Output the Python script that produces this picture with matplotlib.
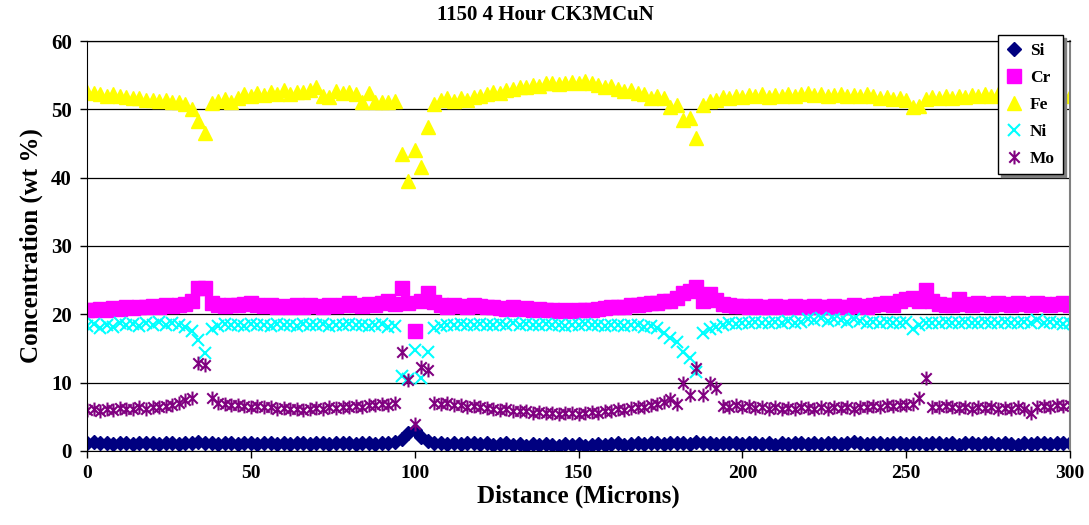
import numpy as np
import matplotlib
matplotlib.use("Agg")
import matplotlib.pyplot as plt
from matplotlib.path import Path

plt.rcParams['font.family'] = ['Liberation Serif', 'DejaVu Serif']
plt.rcParams['font.weight'] = 'bold'

# distance in microns, one reading every 2 microns
distance = np.arange(0, 302, 2)

si = [1.2, 1.3, 1.1, 1.2, 1.0, 1.1, 1.2, 1.0, 1.1, 1.2,
      1.1, 1.0, 1.2, 1.1, 1.0, 1.2, 1.1, 1.3, 1.2, 1.1,
      1.0, 1.2, 1.1, 1.0, 1.1, 1.2, 1.0, 1.1, 1.2, 1.0,
      1.1, 1.0, 1.2, 1.1, 1.0, 1.1, 1.2, 1.0, 1.1, 1.2,
      1.1, 1.0, 1.2, 1.1, 1.0, 1.2, 1.1, 1.3, 1.8, 2.6,
      3.0, 2.0, 1.4, 1.2, 1.1, 1.0, 1.1, 1.0, 1.2, 1.1,
      1.0, 1.1, 0.9, 1.0, 1.1, 0.9, 1.0, 0.8, 1.0, 0.9,
      1.0, 0.9, 0.8, 1.0, 0.9, 1.0, 0.8, 0.9, 1.0, 0.9,
      1.0, 1.1, 0.9, 1.0, 1.1, 1.0, 1.2, 1.1, 1.0, 1.2,
      1.1, 1.2, 1.0, 1.3, 1.1, 1.2, 1.0, 1.1, 1.2, 1.1,
      1.0, 1.1, 1.2, 1.0, 1.1, 0.9, 1.1, 1.0, 1.2, 1.1,
      1.0, 1.1, 1.0, 1.2, 1.1, 1.0, 1.1, 1.3, 1.1, 1.0,
      1.2, 1.1, 1.0, 1.1, 1.2, 1.0, 1.1, 1.2, 1.0, 1.1,
      1.2, 1.0, 1.1, 0.9, 1.1, 1.2, 1.0, 1.1, 1.2, 1.0,
      1.1, 1.0, 0.9, 1.1, 1.0, 1.2, 1.1, 1.0, 1.1, 1.2,
      1.2]

cr = [20.7, 20.6, 20.8, 20.7, 20.9, 20.8, 21.0, 20.9, 21.1, 21.0,
      21.2, 21.1, 21.3, 21.2, 21.4, 21.5, 22.0, 23.8, 23.9, 21.6,
      21.3, 21.2, 21.4, 21.3, 21.5, 21.6, 21.4, 21.2, 21.3, 21.1,
      21.2, 21.0, 21.3, 21.1, 21.4, 21.2, 21.1, 21.3, 21.2, 21.4,
      21.6, 21.3, 21.2, 21.5, 21.4, 21.6, 22.0, 21.5, 23.9, 21.6,
      17.6, 21.9, 23.1, 21.8, 21.3, 21.1, 21.4, 21.2, 21.1, 21.3,
      21.2, 21.0, 21.1, 20.9, 20.8, 21.0, 20.8, 20.9, 20.7, 20.8,
      20.6, 20.7, 20.5, 20.6, 20.5, 20.6, 20.7, 20.6, 20.8, 20.9,
      21.0, 21.1, 21.0, 21.3, 21.4, 21.5, 21.6, 21.7, 21.9, 22.0,
      22.4, 23.1, 23.4, 24.0, 22.0, 23.0, 22.1, 21.5, 21.3, 21.2,
      21.2, 21.1, 21.2, 21.0, 21.1, 21.2, 21.0, 21.1, 21.2, 21.0,
      21.1, 21.2, 21.0, 21.1, 21.2, 21.0, 21.1, 21.3, 21.2, 21.1,
      21.3, 21.5, 21.6, 21.4, 21.9, 22.2, 22.4, 21.9, 23.5, 21.9,
      21.5, 21.3, 21.4, 22.2, 21.5, 21.4, 21.6, 21.5, 21.3, 21.6,
      21.5, 21.4, 21.6, 21.5, 21.4, 21.6, 21.5, 21.4, 21.5, 21.6,
      21.4]

fe = [52.6, 52.4, 52.3, 52.0, 52.2, 51.9, 51.8, 51.6, 51.7, 51.3,
      51.4, 51.2, 51.3, 51.0, 51.1, 50.8, 50.0, 48.3, 46.6, 50.9,
      51.2, 51.5, 51.0, 51.7, 52.3, 52.0, 52.4, 52.1, 52.6, 52.3,
      52.8, 52.2, 52.6, 52.5, 52.9, 53.2, 52.0, 51.8, 52.7, 52.4,
      52.6, 52.3, 51.0, 52.4, 51.0, 51.1, 51.0, 51.2, 43.4, 39.5,
      44.0, 41.5, 47.4, 50.8, 51.4, 51.6, 51.2, 51.7, 51.4, 51.8,
      51.9, 52.3, 52.6, 52.4, 52.9, 53.0, 53.3, 53.2, 53.6, 53.4,
      53.8, 53.9, 53.7, 53.9, 54.0, 53.9, 54.1, 53.8, 53.5, 53.2,
      53.4, 53.0, 52.7, 52.9, 52.4, 52.3, 51.6, 52.0, 51.7, 50.3,
      50.7, 48.4, 48.7, 45.8, 50.7, 51.2, 51.4, 51.8, 51.6, 52.0,
      51.8, 52.1, 51.9, 52.2, 51.8, 52.1, 51.9, 52.2, 52.0, 52.3,
      52.4, 52.1, 52.2, 51.9, 52.1, 52.2, 51.9, 52.1, 52.0, 52.2,
      51.9, 51.6, 51.8, 51.5, 51.7, 51.4, 50.3, 50.5, 51.5, 51.8,
      51.6, 51.9, 51.7, 52.0, 51.8, 52.1, 51.9, 52.2, 52.0, 52.3,
      51.9, 52.2, 52.0, 52.4, 52.1, 52.3, 52.0, 52.2, 52.5, 52.1,
      52.0]

ni = [18.3, 18.6, 18.0, 18.5, 18.2, 18.7, 18.4, 18.6, 18.3, 18.8,
      18.5, 18.9, 18.4, 18.7, 18.5, 18.2, 17.6, 16.2, 14.3, 17.8,
      18.3, 18.6, 18.4, 18.5, 18.3, 18.6, 18.4, 18.5, 18.3, 18.6,
      18.4, 18.5, 18.3, 18.6, 18.5, 18.4, 18.6, 18.3, 18.5, 18.4,
      18.6, 18.4, 18.5, 18.3, 18.5, 18.6, 18.2, 18.3, 10.9, 10.5,
      14.8, 10.7, 14.5, 18.0, 18.3, 18.5, 18.4, 18.6, 18.5, 18.4,
      18.6, 18.5, 18.4, 18.6, 18.5, 18.7, 18.5, 18.6, 18.4, 18.5,
      18.6, 18.4, 18.5, 18.3, 18.5, 18.4, 18.6, 18.4, 18.5, 18.3,
      18.4, 18.5, 18.3, 18.5, 18.4, 18.2, 18.3, 18.0, 17.2, 16.5,
      16.0, 14.5, 13.6, 11.5, 17.2, 17.8, 18.2, 18.5, 18.7, 18.6,
      18.8, 18.7, 18.9, 18.8, 18.7, 18.9, 18.8, 19.0, 18.8, 18.9,
      19.3, 19.1, 19.4, 19.0, 19.3, 19.2, 18.9, 19.3, 19.0, 18.8,
      18.9, 18.7, 18.9, 18.8, 18.7, 18.9, 17.8, 18.5, 18.7, 18.8,
      18.7, 18.9, 18.8, 18.7, 18.9, 18.8, 18.7, 18.9, 18.8, 18.7,
      18.9, 18.8, 18.7, 18.9, 18.8, 19.1, 18.7, 18.9, 18.8, 18.6,
      18.8]

mo = [6.0, 6.1, 5.9, 6.2, 6.0, 6.3, 6.1, 6.2, 6.4, 6.2,
      6.5, 6.4, 6.6, 6.8, 7.0, 7.5, 7.8, 12.9, 12.6, 7.8,
      7.0, 6.9, 6.7, 6.8, 6.6, 6.5, 6.6, 6.4, 6.5, 6.2,
      6.3, 6.1, 6.2, 6.0, 6.1, 6.3, 6.2, 6.4, 6.3, 6.5,
      6.4, 6.6, 6.5, 6.8, 6.7, 6.9, 6.8, 7.0, 14.5, 10.4,
      4.0, 12.3, 11.8, 7.0, 6.9, 7.0, 6.8, 6.7, 6.5, 6.6,
      6.4, 6.3, 6.2, 6.0, 6.1, 5.9, 5.8, 5.9, 5.6, 5.7,
      5.5, 5.6, 5.4, 5.5, 5.6, 5.4, 5.5, 5.7, 5.6, 5.8,
      5.9, 6.1, 6.0, 6.3, 6.4, 6.5, 6.7, 6.9, 7.2, 7.6,
      6.9, 9.9, 8.2, 12.1, 8.2, 9.9, 9.2, 6.6, 6.5, 6.7,
      6.4, 6.6, 6.3, 6.5, 6.2, 6.4, 6.1, 6.3, 6.2, 6.4,
      6.3, 6.1, 6.4, 6.2, 6.5, 6.3, 6.4, 6.2, 6.5, 6.4,
      6.6, 6.5, 6.7, 6.6, 6.8, 6.7, 6.9, 7.7, 10.7, 6.5,
      6.4, 6.6, 6.5, 6.3, 6.4, 6.2, 6.5, 6.3, 6.4, 6.2,
      6.3, 6.2, 6.4, 6.1, 5.6, 6.5, 6.6, 6.5, 6.7, 6.6,
      6.8]

# excel style star: an x with a vertical bar through it
star = Path([(0, -1), (0, 1), (-0.75, -0.75), (0.75, 0.75), (-0.75, 0.75), (0.75, -0.75)],
            [Path.MOVETO, Path.LINETO, Path.MOVETO, Path.LINETO, Path.MOVETO, Path.LINETO])

fig = plt.figure(figsize=(10.89, 5.25), dpi=100)
ax = fig.add_axes([0.0799, 0.1410, 0.9027, 0.7809])

ax.plot(distance, si, 'D', color='#000080', ms=7, mec='#000080', label='Si')
ax.plot(distance, cr, 's', color='#FF00FF', ms=10, mec='#FF00FF', label='Cr')
ax.plot(distance, fe, '^', color='#FFFF00', ms=10, mec='#FFFF00', label='Fe')
ax.plot(distance, ni, 'x', color='#00FFFF', ms=9, mew=1.5, label='Ni')
ax.plot(distance, mo, marker=star, linestyle='none', color='#800080', ms=10, mew=1.5, label='Mo')

ax.set_xlim(0, 300)
ax.set_ylim(0, 60)
ax.set_xticks(range(0, 301, 50))
ax.set_yticks(range(0, 61, 10))
ax.yaxis.grid(True, color='black', lw=0.9)
ax.set_axisbelow(True)
ax.tick_params(direction='out', length=5, width=1)
ax.tick_params(axis='y', labelsize=15, pad=6)
ax.tick_params(axis='x', labelsize=14, pad=5)
for lbl in ax.get_xticklabels() + ax.get_yticklabels():
    lbl.set_fontweight('bold')

ax.spines['right'].set_color('#808080')
ax.spines['right'].set_linewidth(1.5)
ax.spines['top'].set_linewidth(0.9)

ax.set_xlabel('Distance (Microns)', fontsize=18, fontweight='bold', labelpad=2)
ax.set_ylabel('Concentration (wt %)', fontsize=18, fontweight='bold', labelpad=6)
fig.text(0.501, 0.972, '1150 4 Hour CK3MCuN', fontsize=15, fontweight='bold',
         ha='center', va='center')

leg = ax.legend(loc='upper left', bbox_to_anchor=(0.9164, 0.9333), bbox_transform=fig.transFigure,
                borderaxespad=0, fancybox=False, shadow={'color': '#808080', 'alpha': 1},
                handlelength=1, handletextpad=0.4, labelspacing=0.62, borderpad=0.45,
                prop={'size': 12.5, 'weight': 'bold'}, framealpha=1)
leg.get_frame().set_edgecolor('black')
leg.get_frame().set_linewidth(1)

fig.savefig('out.png', dpi=100)
